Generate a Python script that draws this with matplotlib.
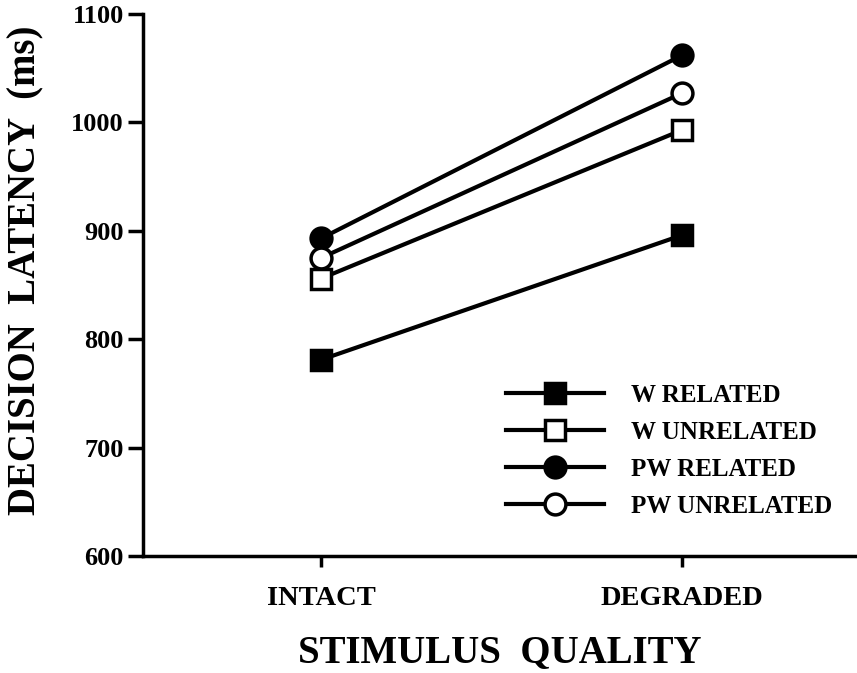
import matplotlib.pyplot as plt
from matplotlib.lines import Line2D

quality = ["INTACT", "DEGRADED"]
w_related = [781, 896]
w_unrelated = [856, 993]
pw_related = [893, 1062]
pw_unrelated = [875, 1027]

plt.rcParams["font.family"] = ["Liberation Serif", "DejaVu Serif"]

fig = plt.figure(figsize=(8.57, 6.73), dpi=100)
ax = fig.add_axes([0.167, 0.174, 0.833, 0.805])

x = range(len(quality))
series = [
    (w_related, "s", "black", "W RELATED"),
    (w_unrelated, "s", "white", "W UNRELATED"),
    (pw_related, "o", "black", "PW RELATED"),
    (pw_unrelated, "o", "white", "PW UNRELATED"),
]
handles = []
for vals, mk, fc, lab in series:
    ms = 14.5 if mk == "s" else 15
    ax.plot(x, vals, color="black", lw=3, marker=mk, markersize=ms,
            markerfacecolor=fc, markeredgecolor="black", markeredgewidth=2.5,
            clip_on=False)
    handles.append(Line2D([], [], color="black", lw=3, marker=mk, markersize=ms,
                          markerfacecolor=fc, markeredgecolor="black",
                          markeredgewidth=2.5, label=lab))

ax.set_xlim(-0.493, 1.485)
ax.set_ylim(600, 1100)
ax.set_xticks(list(x))
ax.set_xticklabels(quality, fontsize=20.5, fontweight="bold")
ax.set_yticks([600, 700, 800, 900, 1000, 1100])
ax.set_yticklabels(["600", "700", "800", "900", "1000", "1100"],
                   fontsize=19, fontweight="bold")
ax.spines["top"].set_visible(False)
ax.spines["right"].set_visible(False)
ax.spines["left"].set_linewidth(2.5)
ax.spines["bottom"].set_linewidth(2.5)
ax.tick_params(axis="y", direction="out", length=11, width=2.5, pad=3)
ax.tick_params(axis="x", direction="out", length=8, width=2.5, pad=14)

ax.set_xlabel("STIMULUS  QUALITY", fontsize=28, fontweight="bold", labelpad=16)
ax.set_ylabel("DECISION  LATENCY  (ms)", fontsize=28, fontweight="bold")
ax.yaxis.set_label_coords(-0.138, 0.528)

ax.legend(handles=handles, loc="lower right", bbox_to_anchor=(0.997, 0.028),
          frameon=False, prop={"size": 18, "weight": "bold"},
          handlelength=3.9, handletextpad=1.1, labelspacing=0.56)

fig.savefig("out.png", dpi=100)
